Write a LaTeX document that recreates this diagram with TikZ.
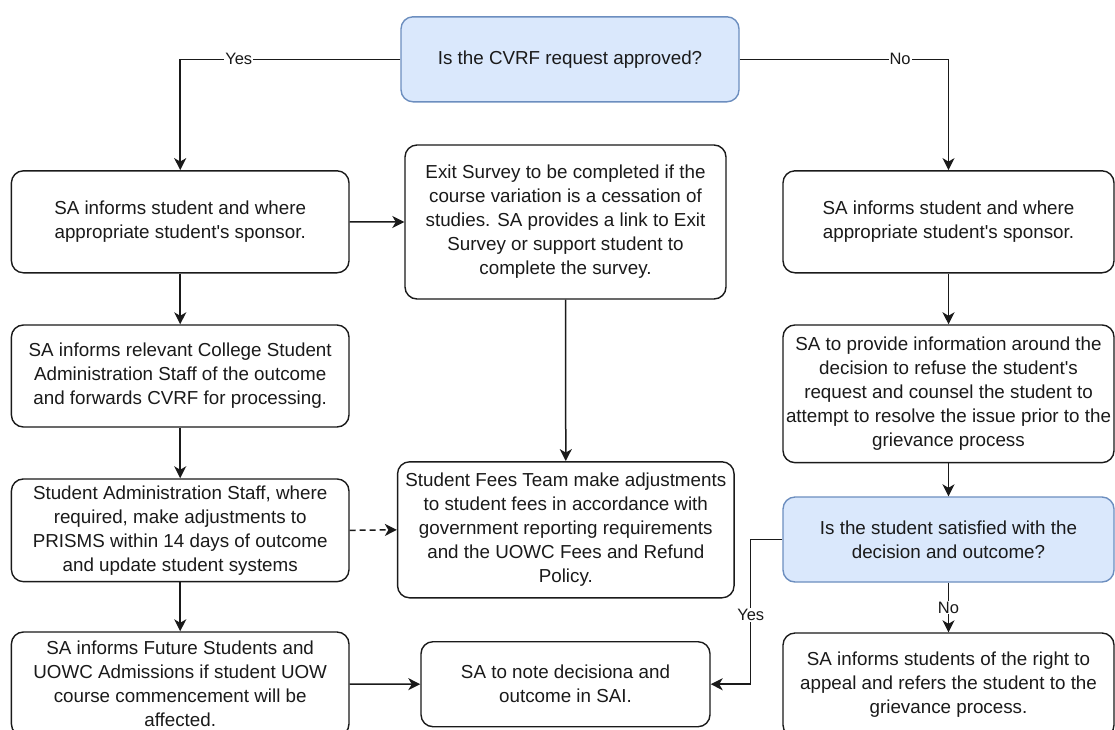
\documentclass[tikz,border=0pt]{standalone}
\usepackage{fontspec}
\setmainfont{Liberation Sans}
\usetikzlibrary{arrows.meta}
\definecolor{bfill}{HTML}{DAE8FC}
\definecolor{bdraw}{HTML}{6C8EBF}
\definecolor{ink}{HTML}{1A1A1A}
\newcommand{\apos}{\textquotesingle}
\begin{document}
\begin{tikzpicture}[x=1pt,y=-1pt,
  box/.style={draw=ink, line width=1.4pt, rounded corners=12pt, fill=white, align=center,
    inner sep=0pt, text=ink, font=\fontsize{18.8}{24}\selectfont},
  dec/.style={box, draw=bdraw, fill=bfill},
  arr/.style={draw=ink, line width=1.5pt, -{Stealth[length=12pt,width=12pt,inset=3.5pt]}},
  lbl/.style={fill=white, inner sep=1pt, text=ink, font=\fontsize{16.5}{18}\selectfont}]
\clip (0,0) rectangle (1115,729);
\fill[white] (0,0) rectangle (1115,729);

\node[dec, minimum width=338pt, minimum height=85pt] (T) at (570,59.3) {Is the CVRF request approved?};

\node[box, minimum width=337.6pt, minimum height=102pt] (A) at (180.2,221.8)
  {SA informs student and where\\appropriate student\apos s sponsor.};
\node[box, minimum width=337.6pt, minimum height=102pt] (B) at (180.2,376)
  {SA informs relevant College Student\\Administration Staff of the outcome\\and forwards CVRF for processing.};
\node[box, minimum width=337.6pt, minimum height=102.7pt] (C) at (180.2,530.3)
  {Student Administration Staff, where\\required, make adjustments to\\PRISMS within 14 days of outcome\\and update student systems};
\node[box, minimum width=337.6pt, minimum height=104pt] (D) at (180.2,684)
  {SA informs Future Students and\\UOWC Admissions if student UOW\\course commencement will be\\affected.};

\node[box, minimum width=321pt, minimum height=154pt] (E) at (565.5,222)
  {Exit Survey to be completed if the\\course variation is a cessation of\\studies. SA provides a link to Exit\\Survey or support student to\\complete the survey.};
\node[box, minimum width=336.5pt, minimum height=136pt] (F) at (565.8,529.8)
  {Student Fees Team make adjustments\\to student fees in accordance with\\government reporting requirements\\and the UOWC Fees and Refund\\Policy.};
\node[box, minimum width=289pt, minimum height=85pt] (G) at (565.5,684.2)
  {SA to note decisiona and\\outcome in SAI.};

\node[box, minimum width=331pt, minimum height=102pt] (H) at (948.5,221.8)
  {SA informs student and where\\appropriate student\apos s sponsor.};
\node[box, minimum width=331pt, minimum height=137.7pt] (I) at (948.5,393.8)
  {SA to provide information around the\\decision to refuse the student\apos s\\request and counsel the student to\\attempt to resolve the issue prior to the\\grievance process};
\node[dec, minimum width=331pt, minimum height=85pt] (J) at (948.5,539.5)
  {Is the student satisfied with the\\decision and outcome?};
\node[box, minimum width=331pt, minimum height=104pt] (K) at (948.5,685)
  {SA informs students of the right to\\appeal and refers the student to the\\grievance process.};

\draw[arr] (T.west) -| node[lbl, pos=0.367] {Yes} (A.north);
\draw[arr] (T.east) -| node[lbl, pos=0.384] {No} (H.north);
\draw[arr] (A) -- (B);
\draw[arr] (B) -- (C);
\draw[arr] (C) -- (D);
\draw[arr] (A.east) -- (E.west);
\draw[arr] (E.south) -- (F.north);
\draw[arr, dash pattern=on 6pt off 4pt] (C.east) -- (F.west);
\draw[arr] (D.east) -- (G.west);
\draw[arr] (H) -- (I);
\draw[arr] (I) -- (J);
\draw[arr] (J.south) -- node[lbl, pos=0.5] {No} (K.north);
\coordinate (Jy) at (750.7,539.5);
\draw[arr] (J.west) -- (Jy) |- node[lbl, pos=0.26] {Yes} (G.east);
\end{tikzpicture}
\end{document}
